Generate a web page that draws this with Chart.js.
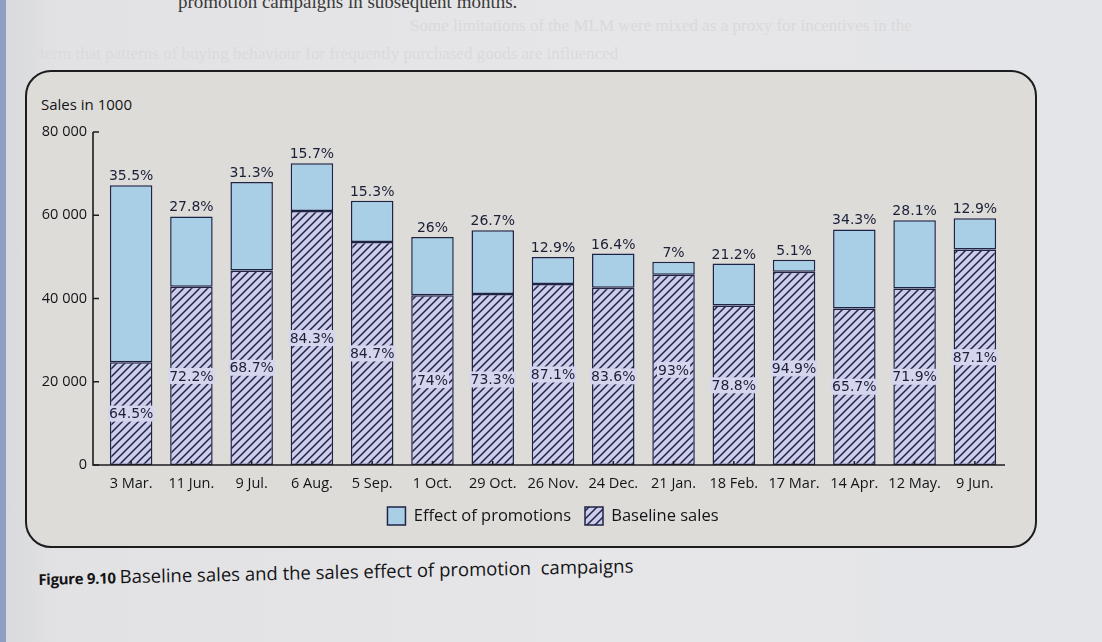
<!DOCTYPE html>
<html>
<head>
<meta charset="utf-8">
<script src="https://cdn.jsdelivr.net/npm/chart.js@4.4.1/dist/chart.umd.min.js"></script>
<style>
  html,body{margin:0;padding:0;}
  body{width:1102px;height:642px;overflow:hidden;position:relative;
       background:linear-gradient(90deg,#d8d9dc 0px,#e2e2e4 60px,#e6e6e8 600px,#e4e5e9 1102px);
       font-family:"Open Sans","Noto Sans",sans-serif;}
  #edge{position:absolute;left:0;top:0;width:6px;height:642px;background:#8f9fc2;}
  #box{position:absolute;left:25px;top:70px;width:1008px;height:474px;border:2px solid #1d1d1f;border-radius:26px;
       background:#dddcd9;}
  #topline{position:absolute;left:178px;top:-9px;font-family:"Liberation Serif",serif;font-size:19px;color:#3a3a3a;}
  #ghost1{position:absolute;left:410px;top:16px;font-family:"Liberation Serif",serif;font-size:17px;color:#d9d9db;}
  #ghost2{position:absolute;left:40px;top:44px;font-family:"Liberation Serif",serif;font-size:17px;color:#dadadc;}
  #ylab{position:absolute;left:41px;top:94px;font-size:15px;color:#141418;}
  #caption{position:absolute;left:38px;top:565px;color:#141416;transform:rotate(-1.2deg);transform-origin:0 0;white-space:nowrap;}
  #caption b{font-size:15px;font-weight:700;margin-right:4px;letter-spacing:-0.3px;}
  #caption span{font-size:18.5px;}
  #wrap{position:absolute;left:0;top:0;width:1102px;height:642px;}
</style>
</head>
<body>
<div id="edge"></div>
<div id="topline">promotion campaigns in subsequent months.</div>
<div id="ghost1">Some limitations of the MLM were mixed as a proxy for incentives in the</div>
<div id="ghost2">term that patterns of buying behaviour for frequently purchased goods are influenced</div>
<div id="box"></div>
<div id="ylab">Sales in 1000</div>
<div id="caption"><b>Figure 9.10</b><span>Baseline sales and the sales effect of promotion&nbsp; campaigns</span></div>
<div id="wrap"><canvas id="c" width="1102" height="642"></canvas></div>
<script>
// ---- data (sales in 1000) ----
const categories = ["3 Mar.","11 Jun.","9 Jul.","6 Aug.","5 Sep.","1 Oct.","29 Oct.","26 Nov.","24 Dec.","21 Jan.","18 Feb.","17 Mar.","14 Apr.","12 May.","9 Jun."];
const baselineSales = [24700,42800,46700,61000,53600,40800,41100,43500,42600,45700,38300,46400,37600,42400,51800];
const promotionEffect = [42500,16900,21300,11500,9900,14000,15300,6500,8200,3100,10100,2900,19000,16400,7500];
const effectPctLabels = ["35.5%","27.8%","31.3%","15.7%","15.3%","26%","26.7%","12.9%","16.4%","7%","21.2%","5.1%","34.3%","28.1%","12.9%"];
const baselinePctLabels = ["64.5%","72.2%","68.7%","84.3%","84.7%","74%","73.3%","87.1%","83.6%","93%","78.8%","94.9%","65.7%","71.9%","87.1%"];
const yTicks = [0,20000,40000,60000,80000];

const NAVY = "#1e2348";
const LAV = "#cdcdea";
const BLUE = "#a9cfe6";
const AXIS_GAP = 8; // y axis line sits this far left of the category grid

function hatch(){
  const s = 8, c = document.createElement("canvas");
  c.width = s; c.height = s;
  const g = c.getContext("2d");
  g.fillStyle = LAV; g.fillRect(0,0,s,s);
  g.strokeStyle = NAVY; g.lineWidth = 1.5;
  g.beginPath();
  g.moveTo(-1,s+1); g.lineTo(s+1,-1);
  g.moveTo(-1,1); g.lineTo(1,-1);
  g.moveTo(s-1,s+1); g.lineTo(s+1,s-1);
  g.stroke();
  return g.createPattern(c,"repeat");
}
const hatchPattern = hatch();

const labelPlugin = {
  id:"labels",
  afterDatasetsDraw(chart){
    const ctx = chart.ctx;
    const base = chart.getDatasetMeta(0).data;
    const eff = chart.getDatasetMeta(1).data;
    const ys = chart.scales.y, xs = chart.scales.x;
    const ax = chart.chartArea.left - AXIS_GAP;
    ctx.save();
    ctx.strokeStyle = "#1d1d1f"; ctx.lineWidth = 1.6;
    ctx.beginPath();
    ctx.moveTo(ax, ys.getPixelForValue(80000));
    ctx.lineTo(ax, ys.getPixelForValue(0));
    ctx.lineTo(chart.chartArea.right, ys.getPixelForValue(0));
    ctx.stroke();
    ctx.lineWidth = 1.5;
    ctx.beginPath();
    yTicks.forEach(v=>{ const py = ys.getPixelForValue(v); ctx.moveTo(ax, py); ctx.lineTo(ax + 6, py); });
    categories.forEach((c,i)=>{ const px = xs.getPixelForValue(i); ctx.moveTo(px, xs.top); ctx.lineTo(px, xs.top - 4); });
    ctx.stroke();

    ctx.font = "14px 'DejaVu Sans', sans-serif";
    ctx.textAlign = "center";
    ctx.fillStyle = "#1b1f38";
    ctx.textBaseline = "alphabetic";
    eff.forEach((el,i)=>{ ctx.fillText(effectPctLabels[i], el.x, el.y - 5); });
    ctx.textBaseline = "middle";
    base.forEach((el,i)=>{
      const yMid = (el.y + el.base)/2;
      const w = ctx.measureText(baselinePctLabels[i]).width;
      ctx.fillStyle = "#d6d5ee";
      ctx.fillRect(el.x - w/2 - 1, yMid - 8, w + 2, 16);
      ctx.fillStyle = "#1b1f38";
      ctx.fillText(baselinePctLabels[i], el.x, yMid + 1);
    });
    ctx.restore();
  }
};

new Chart(document.getElementById("c"), {
  type:"bar",
  data:{
    labels: categories,
    datasets:[
      {label:"Baseline sales", data: baselineSales, backgroundColor: hatchPattern, borderColor: NAVY, borderWidth: 1.5, borderSkipped: false},
      {label:"Effect of promotions", data: promotionEffect, backgroundColor: BLUE, borderColor: NAVY, borderWidth: 1.5, borderSkipped: false}
    ]
  },
  options:{
    responsive:false,
    animation:false,
    events:[],
    layout:{padding:{left:0, top:132, right:97, bottom:107}},
    datasets:{bar:{barPercentage:0.86, categoryPercentage:0.82}},
    scales:{
      x:{
        stacked:true,
        grid:{display:false, drawTicks:false},
        border:{display:false},
        ticks:{color:"#141418", font:{family:"'Open Sans', 'Noto Sans', sans-serif", size:14.5}, padding:10, maxRotation:0, autoSkip:false},
        afterFit(s){ s.height = 28; }
      },
      y:{
        stacked:true,
        min:0, max:80000,
        afterBuildTicks(s){ s.ticks = yTicks.map(v=>({value:v})); },
        grid:{display:false, drawTicks:false},
        border:{display:false},
        ticks:{color:"#141418", padding:6 + AXIS_GAP, font:{family:"'Open Sans', 'Noto Sans', sans-serif", size:14.5},
               callback:(v)=> v===0 ? "0" : (v/1000) + " 000"},
        afterFit(s){ s.width = 93 + AXIS_GAP; }
      }
    },
    plugins:{
      legend:{
        position:"bottom",
        fullSize:false,
        reverse:true,
        labels:{boxWidth:18, boxHeight:18, padding:14, color:"#141418",
                font:{family:"'Open Sans', 'Noto Sans', sans-serif", size:16.5}}
      },
      tooltip:{enabled:false}
    }
  },
  plugins:[labelPlugin]
});
</script>
</body>
</html>
